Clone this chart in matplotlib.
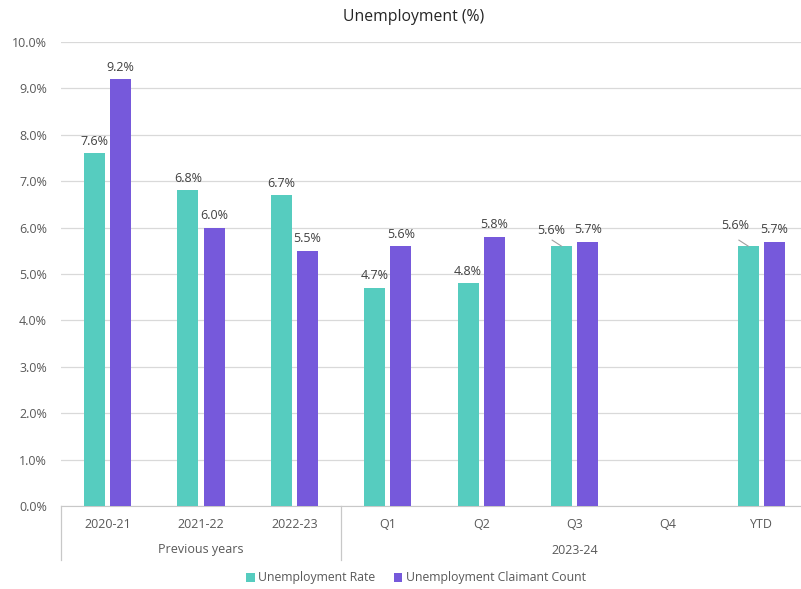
import matplotlib
matplotlib.use("Agg")
import matplotlib.pyplot as plt
from matplotlib.lines import Line2D
from matplotlib.patches import Patch
import numpy as np

plt.rcParams['font.family'] = ['Open Sans', 'DejaVu Sans']

categories = ["2020-21", "2021-22", "2022-23", "Q1", "Q2", "Q3", "Q4", "YTD"]
groups = [("Previous years", 0, 2), ("2023-24", 3, 7)]
rate = [7.6, 6.8, 6.7, 4.7, 4.8, 5.6, None, 5.6]
claimant = [9.2, 6.0, 5.5, 5.6, 5.8, 5.7, None, 5.7]
series_names = ["Unemployment Rate", "Unemployment Claimant Count"]
colors = ["#56CCBF", "#7659DB"]

W, H = 801, 589
fig = plt.figure(figsize=(W / 100, H / 100), dpi=100)
left_px, right_px, top_px, bot_px = 61, 808, 42, 506
ax = fig.add_axes([left_px / W, 1 - bot_px / H, (right_px - left_px) / W, (bot_px - top_px) / H])

x = np.arange(len(categories))
bw = 0.225
off = 0.14
text_c = "#404040"
tick_c = "#595959"

for vals, sign, col in [(rate, -1, colors[0]), (claimant, 1, colors[1])]:
    for i, v in enumerate(vals):
        if v is None:
            continue
        ax.bar(x[i] + sign * off, v, width=bw, color=col, zorder=3)

# data labels
for i, v in enumerate(rate):
    if v is None:
        continue
    xc = x[i] - off
    if categories[i] in ("Q3", "YTD"):
        dx = -0.11 if categories[i] == "Q3" else -0.14
        dy = 0.2 if categories[i] == "Q3" else 0.3
        ax.plot([xc - 0.1, xc], [v + 0.13, v], color="#a0a0a0", lw=0.8, zorder=4)
        ax.text(xc + dx, v + dy, f"{v:.1f}%", ha="center", va="bottom", fontsize=9, color=text_c)
    else:
        ax.text(xc, v + 0.12, f"{v:.1f}%", ha="center", va="bottom", fontsize=9, color=text_c)
for i, v in enumerate(claimant):
    if v is None:
        continue
    ax.text(x[i] + off, v + 0.12, f"{v:.1f}%", ha="center", va="bottom", fontsize=9, color=text_c)

ax.set_xlim(-0.5, len(categories) - 0.5)
ax.set_ylim(0, 10)
ax.set_yticks(np.arange(0, 10.01, 1))
ax.set_yticklabels([f"{t:.1f}%" for t in np.arange(0, 10.01, 1)])
ax.yaxis.grid(True, color="#d9d9d9", lw=0.9, zorder=0)
ax.set_axisbelow(True)
for s in ["top", "right", "left"]:
    ax.spines[s].set_visible(False)
ax.spines["bottom"].set_color("#c8c8c8")
ax.tick_params(axis="y", length=0, labelsize=9, colors=tick_c, pad=10)
ax.set_xticks(x)
ax.set_xticklabels(categories)
ax.tick_params(axis="x", length=0, labelsize=9, colors=tick_c, pad=9)

# group labels and separators
trans = ax.get_xaxis_transform()
ysep = -54 / (bot_px - top_px)
for name, a, b in groups:
    ax.text((a + b) / 2, -44 / (bot_px - top_px), name, transform=trans, ha="center", va="center",
            fontsize=9, color=tick_c)
for xs in [-0.5, 2.5, 7.5]:
    ax.add_line(Line2D([xs, xs], [0, ysep], transform=trans, color="#c8c8c8", lw=0.9, clip_on=False))

fig.text(0.5 + 13 / W, 1 - 17 / H, "Unemployment (%)", ha="center", va="center", fontsize=11.3, color="#252525")

handles = [Patch(facecolor=c, edgecolor="none") for c in colors]
fig.legend(handles, series_names, loc="center", bbox_to_anchor=(416 / W, 1 - 578 / H), ncol=2,
           frameon=False, fontsize=8.8, handlelength=0.7, handleheight=0.7, handletextpad=0.3,
           columnspacing=1.5, labelcolor=tick_c)

fig.savefig("out.png", dpi=100)
